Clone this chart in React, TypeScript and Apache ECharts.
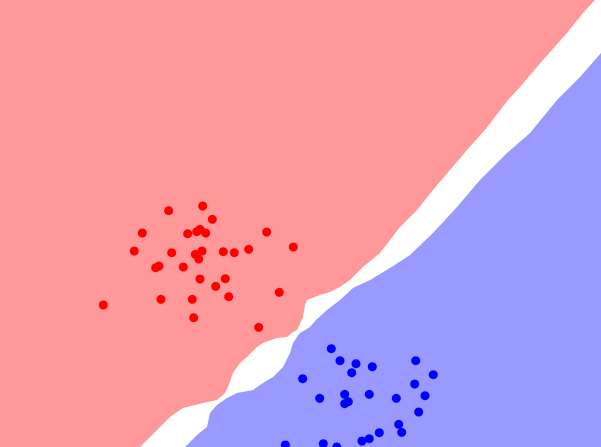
import React, { useEffect, useRef } from "react";
import * as echarts from "echarts";

// Decision-boundary edges (x, y) in plot units (y measured up from the bottom)
const redEdge: number[][] = [
  [0, 0], [140, 0], [147, 7], [160, 20], [170, 30], [183, 39], [203, 44], [217, 47],
  [225, 54], [228, 60], [233, 74], [240, 84], [247, 90], [257, 100], [263, 104],
  [277, 109], [287, 110], [293, 115], [297, 117], [303, 130], [305, 142], [307, 147],
  [320, 152], [330, 155], [340, 160], [350, 167], [363, 180], [380, 194], [390, 207],
  [400, 220], [417, 237], [433, 257], [450, 277], [467, 297], [485, 317], [508, 347],
  [520, 360], [543, 387], [567, 414], [583, 434], [595, 447],
];

const blueEdge: number[][] = [
  [185, 0], [197, 12], [207, 20], [210, 34], [217, 42], [227, 49], [237, 54], [253, 57],
  [263, 64], [273, 70], [283, 80], [290, 94], [293, 104], [297, 110], [300, 114],
  [310, 120], [316, 127], [327, 137], [340, 147], [353, 159], [370, 167], [390, 179],
  [410, 192], [433, 214], [457, 240], [480, 267], [507, 294], [530, 314], [557, 347],
  [580, 370], [601, 394],
];

// Class A (red) samples
const redPoints: number[][] = [
  [202.7, 241], [168.7, 236.3], [212.3, 227.7], [142.3, 214], [187.7, 213.3],
  [196.7, 215.3], [200, 217.7], [205.7, 214], [266.7, 215], [134.3, 196],
  [171.7, 194.3], [195.3, 192.7], [202, 196], [198.7, 188], [223.3, 195.3],
  [234.3, 194.3], [248.7, 197.7], [293.3, 200], [155.7, 179.3], [159, 181],
  [183.3, 180], [200, 168], [225.3, 168.3], [215.7, 160.7], [228.7, 150.3],
  [279.3, 154.7], [103.3, 142], [161, 147.7], [192.3, 147.7], [193.7, 129.3],
  [258.7, 119.7],
];

// Class B (blue) samples
const bluePoints: number[][] = [
  [331.3, 98.3], [340, 86.3], [356, 83.3], [372.3, 80.3], [351.7, 74.3],
  [415.7, 86.3], [433.3, 72.3], [302.7, 68.3], [414.7, 63], [344.7, 52.7],
  [369.3, 52.7], [319.7, 48.7], [396.3, 48.7], [425, 51.3], [348.3, 45.3],
  [344.7, 43.3], [418.7, 35], [398.7, 22.7], [401.7, 14.7], [379.3, 14.3],
  [369.3, 8.3], [362, 6], [323.3, 3.3], [285.3, 2], [336.7, 0],
];

const X_MAX = 601;
const Y_MAX = 447;

export default function App() {
  const ref = useRef<HTMLDivElement>(null);
  useEffect(() => {
    if (!ref.current) return;
    const chart = echarts.init(ref.current, null, { renderer: "svg" });
    chart.setOption({
      animation: false,
      backgroundColor: "#ffffff",
      grid: { left: 0, right: 0, top: 0, bottom: 0 },
      xAxis: { type: "value", min: 0, max: X_MAX, show: false, splitLine: { show: false } },
      yAxis: { type: "value", min: 0, max: Y_MAX, show: false, splitLine: { show: false } },
      series: [
        {
          type: "line",
          data: redEdge,
          showSymbol: false,
          symbol: "none",
          lineStyle: { width: 0, opacity: 0 },
          areaStyle: { color: "#ff9999", opacity: 1, origin: "end" },
          silent: true,
          z: 1,
        },
        {
          type: "line",
          data: blueEdge,
          showSymbol: false,
          symbol: "none",
          lineStyle: { width: 0, opacity: 0 },
          areaStyle: { color: "#9999ff", opacity: 1, origin: "start" },
          silent: true,
          z: 1,
        },
        {
          type: "scatter",
          data: redPoints,
          symbolSize: 9,
          itemStyle: { color: "#ff0000", opacity: 1 },
          clip: false,
          z: 3,
        },
        {
          type: "scatter",
          data: bluePoints,
          symbolSize: 9,
          itemStyle: { color: "#0000ff", opacity: 1 },
          clip: false,
          z: 3,
        },
      ],
    });
    return () => chart.dispose();
  }, []);
  return (
    <div
      ref={ref}
      style={{ position: "fixed", left: 0, top: 0, width: 601, height: 447 }}
    />
  );
}
